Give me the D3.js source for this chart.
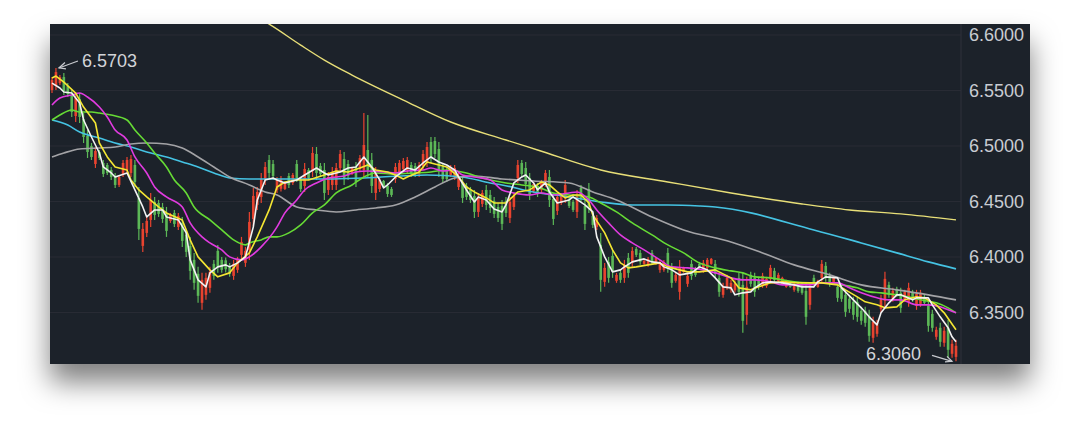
<!DOCTYPE html>
<html><head><meta charset="utf-8">
<script src="https://cdn.jsdelivr.net/npm/d3@7"></script>
<style>html,body{margin:0;padding:0;background:#fff}svg{display:block}</style>
</head><body>
<svg id="chart" width="1080" height="440"></svg>
<script>
// ---- candle data (price, one entry per session) ----
const open = [
6.5504,6.5540,6.5567,6.5621,6.5540,6.5459,6.5270,6.5423,6.5243,6.5090,
6.4999,6.4838,6.4946,6.4847,6.4829,6.4784,6.4730,6.4649,6.4748,6.4784,
6.4757,6.4829,6.4532,6.4100,6.4217,6.4334,6.4496,6.4487,6.4451,6.4397,
6.4325,6.4397,6.4271,6.4307,6.4199,6.4100,6.3974,6.3848,6.3587,6.3659,
6.3722,6.3938,6.4055,6.3974,6.3970,6.3920,6.3830,6.3884,6.4019,6.3947,
6.4064,6.4343,6.4469,6.4541,6.4694,6.4874,6.4838,6.4604,6.4615,6.4613,
6.4730,6.4667,6.4838,6.4694,6.4640,6.4784,6.4775,6.4928,6.4820,6.4784,
6.4604,6.4649,6.4649,6.4802,6.4883,6.4838,6.4748,6.4811,6.4793,6.4784,
6.4964,6.4874,6.4577,6.4613,6.4685,6.4640,6.4613,6.4703,6.4766,6.4793,
6.4784,6.4829,6.4820,6.4748,6.4820,6.4856,6.5036,6.5045,6.4973,6.4811,
6.4784,6.4739,6.4721,6.4631,6.4676,6.4640,6.4604,6.4550,6.4406,6.4478,
6.4604,6.4559,6.4505,6.4451,6.4460,6.4505,6.4352,6.4451,6.4712,6.4847,
6.4802,6.4712,6.4595,6.4640,6.4604,6.4658,6.4721,6.4523,6.4415,6.4487,
6.4532,6.4523,6.4496,6.4406,6.4622,6.4460,6.4613,6.4370,6.4271,6.4109,
6.3776,6.3956,6.4010,6.3785,6.3857,6.3812,6.3992,6.3947,6.4073,6.4037,
6.3938,6.3929,6.4037,6.3938,6.3884,6.3884,6.4037,6.3902,6.3785,6.3686,
6.3866,6.3758,6.3938,6.3893,6.3938,6.3884,6.3902,6.3938,6.3938,6.3812,
6.3659,6.3731,6.3704,6.3700,6.3812,6.3749,6.3479,6.3839,6.3812,6.3794,
6.3749,6.3740,6.3803,6.3875,6.3785,6.3758,6.3731,6.3758,6.3704,6.3758,
6.3749,6.3695,6.3569,6.3812,6.3731,6.3812,6.3920,6.3830,6.3758,6.3731,
6.3722,6.3659,6.3623,6.3596,6.3596,6.3515,6.3515,6.3470,6.3272,6.3308,
6.3533,6.3605,6.3749,6.3623,6.3713,6.3677,6.3614,6.3596,6.3686,6.3560,
6.3578,6.3641,6.3560,6.3488,6.3281,6.3362,6.3227,6.3362,6.3128,6.3100];
const high = [
6.5621,6.5703,6.5639,6.5657,6.5567,6.5504,6.5486,6.5477,6.5297,6.5144,
6.5027,6.4991,6.4964,6.4874,6.4847,6.4811,6.4757,6.4739,6.4874,6.4901,
6.4919,6.4874,6.4631,6.4307,6.4361,6.4577,6.4541,6.4514,6.4487,6.4451,
6.4397,6.4424,6.4397,6.4361,6.4244,6.4181,6.4037,6.3911,6.3857,6.3857,
6.3911,6.3974,6.4109,6.4001,6.3995,6.3947,6.3974,6.4001,6.4181,6.4091,
6.4406,6.4622,6.4631,6.4757,6.4856,6.4919,6.4874,6.4721,6.4730,6.4676,
6.4757,6.4757,6.4874,6.4721,6.4847,6.4802,6.4991,6.4991,6.4847,6.4847,
6.4766,6.4811,6.4847,6.4964,6.4946,6.4874,6.4811,6.4856,6.4919,6.5297,
6.5279,6.4937,6.4811,6.4721,6.4694,6.4667,6.4631,6.4847,6.4874,6.4892,
6.4901,6.4856,6.4847,6.4856,6.4964,6.5036,6.5081,6.5081,6.5036,6.4847,
6.4811,6.4829,6.4829,6.4757,6.4721,6.4667,6.4631,6.4604,6.4577,6.4604,
6.4649,6.4604,6.4541,6.4487,6.4514,6.4541,6.4541,6.4577,6.4874,6.4874,
6.4856,6.4757,6.4676,6.4667,6.4694,6.4784,6.4784,6.4577,6.4577,6.4577,
6.4694,6.4541,6.4514,6.4604,6.4649,6.4514,6.4667,6.4397,6.4379,6.4217,
6.3947,6.4001,6.4064,6.3857,6.3884,6.3974,6.4037,6.4091,6.4091,6.4064,
6.3974,6.4001,6.4064,6.4001,6.3974,6.3974,6.4082,6.3947,6.3857,6.3974,
6.3911,6.3857,6.3974,6.3911,6.3956,6.3974,6.3992,6.3992,6.3974,6.3857,
6.3767,6.3839,6.3794,6.3790,6.3857,6.3857,6.3821,6.3866,6.3857,6.3821,
6.3857,6.3821,6.3929,6.3902,6.3857,6.3821,6.3794,6.3767,6.3767,6.3776,
6.3767,6.3767,6.3767,6.3839,6.3794,6.3974,6.3956,6.3857,6.3821,6.3767,
6.3749,6.3704,6.3659,6.3641,6.3641,6.3551,6.3551,6.3524,6.3461,6.3434,
6.3659,6.3866,6.3776,6.3722,6.3731,6.3722,6.3704,6.3767,6.3704,6.3704,
6.3704,6.3659,6.3614,6.3524,6.3371,6.3407,6.3371,6.3434,6.3254,6.3254];
const low = [
6.5477,6.5504,6.5549,6.5459,6.5441,6.5261,6.5216,6.5207,6.5027,6.4892,
6.4874,6.4802,6.4874,6.4721,6.4739,6.4694,6.4622,6.4631,6.4721,6.4757,
6.4721,6.4631,6.4154,6.4046,6.4181,6.4271,6.4334,6.4361,6.4307,6.4181,
6.4307,6.4271,6.4244,6.4091,6.4001,6.3794,6.3704,6.3587,6.3524,6.3614,
6.3677,6.3794,6.3857,6.3857,6.3860,6.3821,6.3794,6.3857,6.3974,6.3911,
6.3974,6.4271,6.4424,6.4487,6.4649,6.4712,6.4694,6.4577,6.4590,6.4604,
6.4622,6.4649,6.4676,6.4586,6.4586,6.4694,6.4721,6.4694,6.4721,6.4514,
6.4559,6.4604,6.4604,6.4766,6.4649,6.4694,6.4739,6.4631,6.4766,6.4721,
6.4721,6.4577,6.4514,6.4586,6.4631,6.4541,6.4541,6.4667,6.4739,6.4766,
6.4757,6.4721,6.4721,6.4721,6.4784,6.4811,6.4847,6.4892,6.4721,6.4667,
6.4676,6.4721,6.4694,6.4604,6.4487,6.4514,6.4487,6.4352,6.4361,6.4451,
6.4424,6.4397,6.4352,6.4316,6.4244,6.4361,6.4307,6.4424,6.4667,6.4721,
6.4604,6.4514,6.4577,6.4541,6.4577,6.4631,6.4451,6.4289,6.4379,6.4469,
6.4487,6.4442,6.4406,6.4352,6.4496,6.4244,6.4397,6.4262,6.4244,6.3686,
6.3731,6.3767,6.3812,6.3767,6.3767,6.3767,6.3812,6.3911,6.4001,6.3929,
6.3929,6.3911,6.3929,6.3929,6.3857,6.3866,6.3857,6.3722,6.3767,6.3614,
6.3857,6.3731,6.3794,6.3821,6.3884,6.3857,6.3884,6.3929,6.3812,6.3641,
6.3632,6.3704,6.3677,6.3680,6.3641,6.3317,6.3389,6.3731,6.3641,6.3704,
6.3722,6.3722,6.3776,6.3767,6.3767,6.3749,6.3722,6.3722,6.3686,6.3677,
6.3659,6.3389,6.3524,6.3722,6.3722,6.3776,6.3776,6.3731,6.3749,6.3596,
6.3596,6.3461,6.3497,6.3434,6.3416,6.3389,6.3371,6.3236,6.3227,6.3281,
6.3497,6.3542,6.3632,6.3596,6.3641,6.3497,6.3596,6.3551,6.3596,6.3524,
6.3551,6.3569,6.3326,6.3326,6.3254,6.3191,6.3191,6.3092,6.3092,6.3060];
const close = [
6.5594,6.5666,6.5621,6.5495,6.5468,6.5306,6.5432,6.5261,6.5081,6.4946,
6.4901,6.4955,6.4892,6.4748,6.4757,6.4721,6.4649,6.4721,6.4847,6.4874,
6.4883,6.4676,6.4253,6.4253,6.4325,6.4514,6.4379,6.4388,6.4343,6.4235,
6.4379,6.4298,6.4370,6.4145,6.4046,6.3875,6.3767,6.3650,6.3794,6.3812,
6.3866,6.3830,6.3911,6.3884,6.3890,6.3848,6.3938,6.3974,6.4136,6.4055,
6.4316,6.4550,6.4586,6.4703,6.4811,6.4757,6.4730,6.4694,6.4700,6.4667,
6.4649,6.4739,6.4712,6.4613,6.4793,6.4712,6.4937,6.4757,6.4748,6.4577,
6.4721,6.4766,6.4802,6.4928,6.4712,6.4730,6.4802,6.4676,6.4892,6.5009,
6.4784,6.4640,6.4757,6.4694,6.4640,6.4568,6.4559,6.4811,6.4847,6.4865,
6.4874,6.4748,6.4748,6.4829,6.4928,6.4991,6.4892,6.4928,6.4784,6.4703,
6.4703,6.4811,6.4802,6.4730,6.4532,6.4541,6.4514,6.4406,6.4532,6.4577,
6.4469,6.4442,6.4388,6.4352,6.4298,6.4397,6.4496,6.4550,6.4829,6.4748,
6.4658,6.4559,6.4658,6.4568,6.4667,6.4757,6.4514,6.4343,6.4541,6.4559,
6.4649,6.4460,6.4424,6.4550,6.4523,6.4298,6.4451,6.4289,6.4352,6.3794,
6.3902,6.3812,6.3866,6.3839,6.3794,6.3929,6.3857,6.4055,6.4019,6.3956,
6.3965,6.3983,6.3956,6.3992,6.3947,6.3956,6.3902,6.3767,6.3839,6.3902,
6.3902,6.3830,6.3830,6.3839,6.3902,6.3947,6.3974,6.3983,6.3848,6.3686,
6.3740,6.3812,6.3767,6.3760,6.3686,6.3425,6.3731,6.3758,6.3686,6.3731,
6.3830,6.3803,6.3902,6.3794,6.3839,6.3812,6.3785,6.3731,6.3749,6.3695,
6.3677,6.3461,6.3722,6.3749,6.3785,6.3938,6.3812,6.3758,6.3812,6.3632,
6.3623,6.3506,6.3533,6.3479,6.3461,6.3425,6.3407,6.3290,6.3416,6.3407,
6.3623,6.3803,6.3659,6.3695,6.3659,6.3542,6.3686,6.3722,6.3614,6.3668,
6.3677,6.3587,6.3380,6.3362,6.3344,6.3236,6.3335,6.3164,6.3218,6.3200];

// ---- moving averages: [session index, price] ----
const ma5 = [[0,6.5567],[2,6.5522],[3,6.5486],[5,6.5477],[7,6.5387],[8,6.5234],[10,6.5081],[12,6.4937],[13,6.4811],[15,6.4757],[16,6.4721],[19,6.4757],[21,6.4604],[23,6.4451],[24,6.4361],[26,6.4424],[28,6.4424],[29,6.4361],[32,6.4334],[34,6.4217],[35,6.3974],[37,6.3794],[39,6.3731],[40,6.3857],[42,6.3911],[44,6.3929],[45,6.3911],[47,6.3947],[49,6.4001],[51,6.4271],[52,6.4514],[54,6.4694],[56,6.4712],[57,6.4694],[59,6.4667],[62,6.4694],[64,6.4739],[67,6.4802],[69,6.4757],[70,6.4739],[73,6.4766],[75,6.4802],[77,6.4811],[79,6.4901],[81,6.4811],[83,6.4694],[84,6.4622],[85,6.4649],[87,6.4721],[90,6.4802],[92,6.4784],[94,6.4847],[96,6.4901],[98,6.4856],[100,6.4829],[102,6.4784],[103,6.4721],[105,6.4604],[107,6.4496],[108,6.4541],[110,6.4514],[112,6.4433],[114,6.4406],[115,6.4469],[117,6.4667],[119,6.4721],[120,6.4739],[122,6.4667],[123,6.4604],[125,6.4667],[126,6.4586],[128,6.4487],[131,6.4514],[132,6.4541],[135,6.4469],[137,6.4406],[138,6.4181],[140,6.4001],[142,6.3866],[144,6.3884],[145,6.3911],[147,6.3956],[150,6.3983],[152,6.3956],[154,6.3947],[155,6.3911],[157,6.3884],[159,6.3839],[162,6.3857],[164,6.3911],[166,6.3884],[168,6.3812],[170,6.3731],[172,6.3722],[173,6.3659],[175,6.3677],[177,6.3686],[178,6.3722],[180,6.3767],[182,6.3776],[185,6.3767],[188,6.3749],[190,6.3731],[193,6.3731],[194,6.3776],[196,6.3821],[199,6.3812],[200,6.3722],[203,6.3614],[205,6.3542],[207,6.3461],[209,6.3389],[210,6.3497],[212,6.3587],[214,6.3659],[215,6.3659],[218,6.3614],[219,6.3632],[222,6.3632],[223,6.3569],[225,6.3461],[227,6.3362],[228,6.3281],[229,6.3236]];
const ma10 = [[0,6.5612],[1,6.5630],[3,6.5576],[6,6.5477],[8,6.5351],[11,6.5207],[12,6.5027],[14,6.4901],[16,6.4811],[19,6.4784],[20,6.4694],[22,6.4604],[24,6.4541],[27,6.4451],[29,6.4397],[33,6.4334],[35,6.4154],[37,6.4001],[40,6.3884],[42,6.3821],[45,6.3857],[47,6.3947],[50,6.4037],[52,6.4181],[55,6.4424],[57,6.4631],[59,6.4676],[62,6.4694],[65,6.4694],[69,6.4739],[72,6.4775],[75,6.4766],[78,6.4802],[80,6.4829],[82,6.4784],[85,6.4766],[87,6.4739],[89,6.4703],[90,6.4721],[93,6.4766],[95,6.4856],[98,6.4829],[100,6.4811],[103,6.4721],[105,6.4631],[107,6.4586],[110,6.4532],[112,6.4487],[115,6.4487],[118,6.4586],[121,6.4604],[124,6.4676],[126,6.4649],[128,6.4586],[130,6.4532],[132,6.4559],[134,6.4559],[136,6.4487],[137,6.4379],[140,6.4217],[142,6.4064],[144,6.3947],[146,6.3902],[148,6.3911],[151,6.3929],[154,6.3947],[156,6.3911],[159,6.3884],[161,6.3866],[164,6.3866],[168,6.3884],[172,6.3812],[174,6.3722],[177,6.3704],[179,6.3731],[182,6.3767],[185,6.3776],[189,6.3767],[192,6.3767],[195,6.3767],[199,6.3749],[201,6.3704],[204,6.3641],[206,6.3596],[209,6.3569],[211,6.3542],[214,6.3551],[216,6.3614],[219,6.3641],[221,6.3632],[224,6.3569],[226,6.3497],[229,6.3344]];
const ma20 = [[0,6.5369],[2,6.5432],[5,6.5459],[7,6.5477],[9,6.5441],[12,6.5351],[14,6.5261],[16,6.5144],[19,6.5054],[21,6.4901],[24,6.4757],[26,6.4631],[29,6.4541],[33,6.4451],[35,6.4307],[38,6.4181],[40,6.4127],[43,6.4064],[45,6.4001],[48,6.3974],[50,6.4001],[53,6.4091],[56,6.4217],[57,6.4271],[59,6.4397],[62,6.4514],[64,6.4604],[67,6.4667],[70,6.4712],[74,6.4730],[77,6.4766],[80,6.4775],[84,6.4766],[87,6.4757],[90,6.4775],[94,6.4784],[96,6.4802],[99,6.4775],[102,6.4784],[104,6.4739],[107,6.4721],[111,6.4694],[114,6.4604],[117,6.4577],[121,6.4559],[124,6.4577],[127,6.4559],[131,6.4577],[133,6.4586],[136,6.4514],[138,6.4424],[141,6.4307],[144,6.4199],[147,6.4127],[150,6.4064],[154,6.3974],[157,6.3911],[161,6.3902],[165,6.3884],[169,6.3848],[172,6.3812],[175,6.3794],[178,6.3794],[182,6.3776],[185,6.3749],[189,6.3749],[192,6.3749],[195,6.3767],[199,6.3767],[202,6.3722],[205,6.3677],[209,6.3632],[212,6.3614],[215,6.3614],[219,6.3569],[222,6.3569],[225,6.3551],[227,6.3524],[229,6.3497]];
const ma30 = [[0,6.5234],[2,6.5279],[5,6.5324],[7,6.5306],[10,6.5306],[12,6.5297],[15,6.5279],[19,6.5234],[21,6.5144],[24,6.5027],[26,6.4937],[29,6.4811],[31,6.4694],[34,6.4577],[36,6.4451],[40,6.4334],[43,6.4244],[46,6.4154],[49,6.4109],[50,6.4127],[53,6.4154],[55,6.4181],[57,6.4181],[60,6.4217],[63,6.4289],[66,6.4397],[69,6.4469],[72,6.4577],[76,6.4649],[79,6.4721],[82,6.4757],[87,6.4748],[92,6.4757],[96,6.4766],[100,6.4784],[105,6.4757],[109,6.4712],[115,6.4667],[119,6.4649],[123,6.4631],[127,6.4577],[131,6.4559],[136,6.4541],[139,6.4487],[143,6.4406],[147,6.4307],[152,6.4199],[156,6.4109],[160,6.4037],[164,6.3947],[168,6.3902],[172,6.3875],[175,6.3857],[178,6.3821],[182,6.3812],[185,6.3794],[188,6.3776],[192,6.3767],[197,6.3767],[200,6.3749],[204,6.3722],[207,6.3686],[210,6.3677],[214,6.3659],[217,6.3641],[220,6.3614],[224,6.3587],[227,6.3542],[229,6.3497]];
const ma60 = [[0,6.4901],[3,6.4937],[7,6.4973],[12,6.4982],[16,6.4991],[20,6.5018],[24,6.5027],[29,6.5018],[33,6.4982],[37,6.4901],[41,6.4811],[45,6.4721],[50,6.4649],[54,6.4586],[57,6.4559],[62,6.4451],[67,6.4424],[72,6.4406],[77,6.4424],[82,6.4442],[87,6.4469],[92,6.4541],[97,6.4631],[102,6.4712],[107,6.4730],[114,6.4703],[122,6.4685],[131,6.4667],[137,6.4586],[143,6.4514],[152,6.4361],[160,6.4244],[172,6.4136],[180,6.4037],[188,6.3929],[197,6.3839],[205,6.3749],[214,6.3704],[222,6.3659],[229,6.3614]];
const ma120 = [[0,6.5234],[4,6.5189],[7,6.5126],[12,6.5072],[16,6.5027],[20,6.4991],[24,6.4946],[29,6.4901],[33,6.4856],[37,6.4811],[41,6.4757],[45,6.4712],[50,6.4703],[57,6.4703],[70,6.4703],[79,6.4712],[95,6.4739],[104,6.4721],[111,6.4667],[114,6.4649],[122,6.4586],[131,6.4541],[139,6.4496],[147,6.4469],[156,6.4469],[164,6.4460],[168,6.4451],[193,6.4244],[205,6.4127],[214,6.4037],[222,6.3956],[229,6.3893]];
const ma250 = [[45,6.6305],[50,6.6197],[55,6.6098],[63,6.5909],[69,6.5774],[76,6.5639],[89,6.5414],[101,6.5216],[115,6.5054],[123,6.4964],[139,6.4784],[156,6.4676],[172,6.4577],[190,6.4478],[202,6.4424],[215,6.4388],[229,6.4334]];

const yTicks = [6.60, 6.55, 6.50, 6.45, 6.40, 6.35];

// ---- drawing ----
const svg = d3.select('#chart');
const P = {x:50, y:24, w:980, h:340};
const plotRight = 961;
const UP = '#e8432f', DOWN = '#5cb857';
const FONT = '"Liberation Sans", Arial, sans-serif';
const N = open.length;

const defs = svg.append('defs');
const f = defs.append('filter').attr('id','sh').attr('x','-10%').attr('y','-20%').attr('width','120%').attr('height','160%');
f.append('feDropShadow').attr('dx',0).attr('dy',18).attr('stdDeviation',14).attr('flood-color','#000').attr('flood-opacity',0.5);
defs.append('clipPath').attr('id','clip').append('rect')
  .attr('x',P.x).attr('y',P.y).attr('width',plotRight-P.x).attr('height',P.h);

svg.append('rect').attr('x',P.x).attr('y',P.y).attr('width',P.w).attr('height',P.h)
  .attr('fill','#1d2029').attr('filter','url(#sh)');

const x = d3.scaleLinear().domain([0, N-1]).range([52, 956]);
const y = d3.scaleLinear().domain([6.3036, 6.6099]).range([P.y+P.h, P.y]);

// grid
svg.append('g').selectAll('line').data(yTicks).join('line')
  .attr('x1',P.x).attr('x2',plotRight).attr('y1',d=>y(d)).attr('y2',d=>y(d))
  .attr('stroke','#292c35').attr('stroke-width',1);
// separator
svg.append('line').attr('x1',plotRight).attr('x2',plotRight).attr('y1',P.y).attr('y2',P.y+P.h)
  .attr('stroke','#2e313a').attr('stroke-width',1);

// axis
const ax = svg.append('g').attr('transform',`translate(${plotRight},0)`)
  .call(d3.axisRight(y).tickValues(yTicks).tickFormat(d3.format('.4f')).tickSize(0).tickPadding(8));
ax.select('.domain').remove();
ax.selectAll('text').attr('fill','#c8ccd2').style('font-family',FONT).style('font-size','18px');

const plot = svg.append('g').attr('clip-path','url(#clip)');
const candles = d3.range(N).map(i=>({i, o:open[i], h:high[i], l:low[i], c:close[i]}));
const col = d => d.c >= d.o ? UP : DOWN;
plot.append('g').selectAll('line').data(candles).join('line')
  .attr('x1',d=>x(d.i)).attr('x2',d=>x(d.i)).attr('y1',d=>y(d.h)).attr('y2',d=>y(d.l))
  .attr('stroke',col).attr('stroke-width',1.2);
plot.append('g').selectAll('rect').data(candles).join('rect')
  .attr('x',d=>x(d.i)-1.3).attr('width',2.6)
  .attr('y',d=>y(Math.max(d.o,d.c))).attr('height',d=>Math.max(1,Math.abs(y(d.o)-y(d.c))))
  .attr('fill',col);

const lines = [
  {d:ma250, c:'#e8df78', w:1.4, curve:d3.curveMonotoneX},
  {d:ma120, c:'#45c3e3', w:1.6, curve:d3.curveMonotoneX},
  {d:ma60,  c:'#a3a3a6', w:1.6, curve:d3.curveMonotoneX},
  {d:ma30,  c:'#66db35', w:1.6, curve:d3.curveMonotoneX},
  {d:ma20,  c:'#e13be0', w:1.6, curve:d3.curveMonotoneX},
  {d:ma10,  c:'#f4e633', w:1.6, curve:d3.curveLinear},
  {d:ma5,   c:'#f2f2f2', w:1.6, curve:d3.curveLinear}
];
lines.forEach(L=>{
  plot.append('path').datum(L.d)
    .attr('d', d3.line().x(p=>x(p[0])).y(p=>y(p[1])).curve(L.curve))
    .attr('fill','none').attr('stroke',L.c).attr('stroke-width',L.w).attr('stroke-linejoin','round');
});

// extreme annotations
const fmt = d3.format('.4f');
const iMax = d3.maxIndex(high), iMin = d3.minIndex(low);
const mx = x(iMax), my = y(high[iMax]);
const nx = x(iMin), ny = y(low[iMin]);
const ann = svg.append('g').style('font-family',FONT).style('font-size','18px');
ann.append('text').attr('x',mx+26).attr('y',my-1).attr('fill','#d2d4d8').text(fmt(high[iMax]));
ann.append('line').attr('x1',mx+22).attr('y1',my-7).attr('x2',mx+3).attr('y2',my).attr('stroke','#c9cbd0').attr('stroke-width',1.2);
ann.append('path').attr('d',`M${mx+9},${my-5.5}L${mx+3},${my}L${mx+10},${my+1}`).attr('fill','none').attr('stroke','#c9cbd0').attr('stroke-width',1.2);
ann.append('text').attr('x',nx-35).attr('y',ny-1).attr('text-anchor','end').attr('fill','#d2d4d8').text(fmt(low[iMin]));
ann.append('line').attr('x1',nx-24).attr('y1',ny-6).attr('x2',nx-4).attr('y2',ny).attr('stroke','#c9cbd0').attr('stroke-width',1.2);
ann.append('path').attr('d',`M${nx-11},${ny+0.5}L${nx-4},${ny}L${nx-9},${ny-5}`).attr('fill','none').attr('stroke','#c9cbd0').attr('stroke-width',1.2);
</script>
</body></html>
